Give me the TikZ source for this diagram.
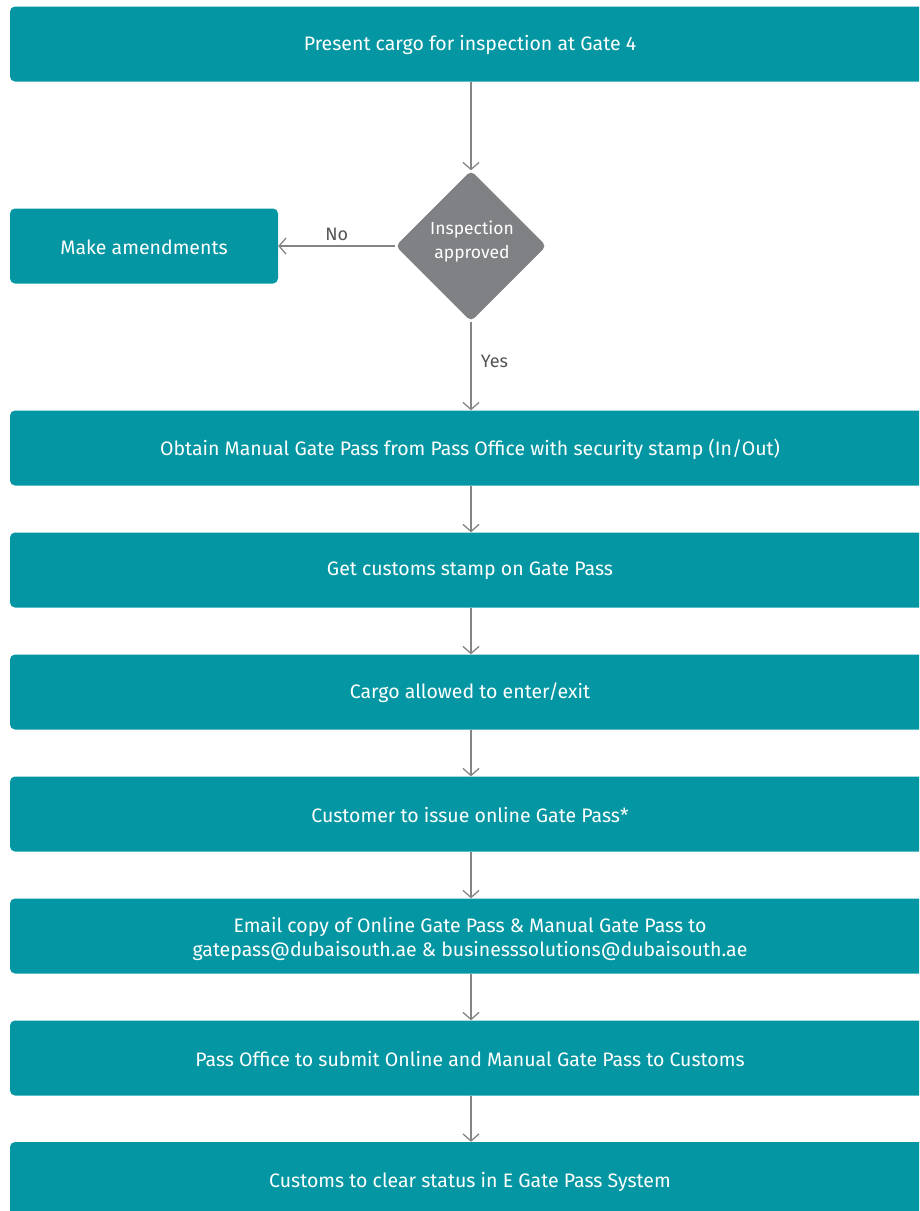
\documentclass[tikz,border=0pt]{standalone}
\usepackage{fontspec}
\setmainfont{Fira Sans}
\usetikzlibrary{shapes.geometric,arrows.meta}
\definecolor{teal1}{HTML}{0497A3}
\definecolor{dgray}{HTML}{808184}
\definecolor{agray}{HTML}{858585}
\definecolor{lgray}{HTML}{555555}
\begin{document}
\begin{tikzpicture}[x=1pt,y=-1pt,
  stepbox/.style={draw=none,fill=teal1,rounded corners=5pt,minimum width=920pt,minimum height=75pt,text=white,font=\fontsize{19.5}{24}\selectfont,align=center,inner sep=0pt},
  boxtext/.style={text=white,font=\fontsize{19.5}{24}\selectfont,align=center,inner sep=0pt},
  decis/.style={diamond,aspect=1,fill=dgray,rounded corners=5pt,minimum width=151pt,minimum height=151pt,inner sep=0pt},
  conn/.style={draw=agray,line width=1.3pt,-{Straight Barb[length=7pt,width=16pt,line width=1.3pt]}},
  lbl/.style={text=lgray,font=\fontsize{18}{22}\selectfont}]
\useasboundingbox (0,0) rectangle (919,1211);
\clip (0,0) rectangle (919,1211);
\node[stepbox] (b1) at (470,44) {};
\node[boxtext] (b1t) at (470,45) {Present cargo for inspection at Gate 4};
\node[decis] (d) at (471,246) {};
\node[boxtext,font=\fontsize{17.5}{24}\selectfont] (dt) at (472,242) {Inspection\\approved};
\node[stepbox,minimum width=268pt] (am) at (144,246) {};
\node[boxtext] (amt) at (144,247) {Make amendments};
\node[stepbox] (b2) at (470,448) {};
\node[boxtext] (b2t) at (470,449) {Obtain Manual Gate Pass from Pass Office with security stamp (In/Out)};
\node[stepbox] (b3) at (470,570) {};
\node[boxtext] (b3t) at (470,571) {Get customs stamp on Gate Pass};
\node[stepbox] (b4) at (470,692) {};
\node[boxtext] (b4t) at (470,693) {Cargo allowed to enter/exit};
\node[stepbox] (b5) at (470,814) {};
\node[boxtext] (b5t) at (470,815) {Customer to issue online Gate Pass*};
\node[stepbox] (b6) at (470,936) {};
\node[boxtext] (b6t) at (470,939) {Email copy of Online Gate Pass \& Manual Gate Pass to\\gatepass@dubaisouth.ae \& businesssolutions@dubaisouth.ae};
\node[stepbox] (b7) at (470,1058) {};
\node[boxtext] (b7t) at (470,1059) {Pass Office to submit Online and Manual Gate Pass to Customs};
\node[stepbox,minimum height=80pt] (b8) at (470,1182) {};
\node[boxtext] (b8t) at (470,1182) {Customs to clear status in E Gate Pass System};
\draw[conn] (b1.south -| d.north) -- (d.north);
\draw[conn] (d.west) -- node[lbl,above,pos=0.5,yshift=1pt] (no) {No} (am.east);
\draw[conn] (d.south) -- node[lbl,right,pos=0.45,xshift=6pt] (yes) {Yes} (b2.north -| d.south);
\draw[conn] (b2.south -| d.south) -- (b3.north -| d.south);
\draw[conn] (b3.south -| d.south) -- (b4.north -| d.south);
\draw[conn] (b4.south -| d.south) -- (b5.north -| d.south);
\draw[conn] (b5.south -| d.south) -- (b6.north -| d.south);
\draw[conn] (b6.south -| d.south) -- (b7.north -| d.south);
\draw[conn] (b7.south -| d.south) -- (b8.north -| d.south);
\end{tikzpicture}
\end{document}
